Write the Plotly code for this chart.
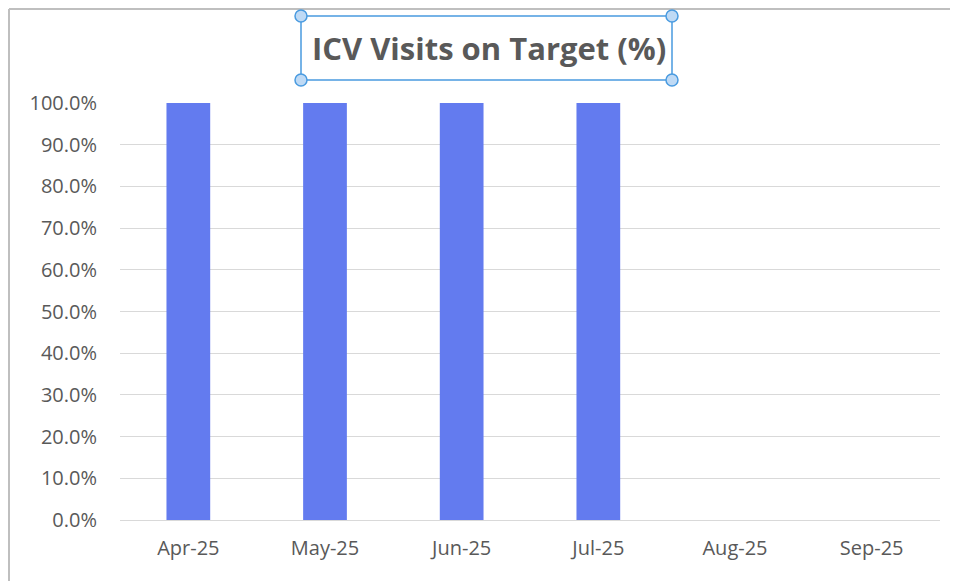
import plotly.graph_objects as go

# chart data
months = ["Apr-25", "May-25", "Jun-25", "Jul-25", "Aug-25", "Sep-25"]
on_target = [1.0, 1.0, 1.0, 1.0, None, None]
y_ticks = [0.0, 0.1, 0.2, 0.3, 0.4, 0.5, 0.6, 0.7, 0.8, 0.9, 1.0]

# the page body adds an 8px margin, so the figure is sized to fit the window
OFF = 8
W, H = 958 - OFF, 581 - OFF
L, R, T, B = 120 - OFF, 18, 103 - OFF, 61
PW, PH = W - L - R, H - T - B


def px_x(px):
    # page pixel -> paper x
    return (px - OFF - L) / PW


def px_y(py):
    # page pixel -> paper y
    return (H - B - (py - OFF)) / PH


font = "'Open Sans', sans-serif"
grey = "#595959"

fig = go.Figure()
fig.add_trace(go.Bar(
    x=months, y=on_target,
    marker=dict(color="#637BEF", line=dict(width=0)),
    width=0.32,
))

shapes = [
    # outer chart border (top + left only, screenshot is cropped)
    dict(type="line", xref="paper", yref="paper", x0=px_x(9), x1=px_x(958), y0=px_y(9), y1=px_y(9),
         line=dict(color="#BFBFBF", width=2)),
    dict(type="line", xref="paper", yref="paper", x0=px_x(9), x1=px_x(9), y0=px_y(9), y1=px_y(581),
         line=dict(color="#BFBFBF", width=2)),
    # title selection box
    dict(type="rect", xref="paper", yref="paper", x0=px_x(301), x1=px_x(672), y0=px_y(16), y1=px_y(80),
         line=dict(color="#4A9BE0", width=1.5)),
]
for cx in (301, 672):
    for cy in (16, 80):
        shapes.append(dict(type="circle", xref="paper", yref="paper",
                           x0=px_x(cx - 6), x1=px_x(cx + 6), y0=px_y(cy - 6), y1=px_y(cy + 6),
                           fillcolor="#BFDAF5", line=dict(color="#4A9BE0", width=1.5)))

fig.update_layout(
    width=W, height=H,
    margin=dict(l=L, r=R, t=T, b=B),
    paper_bgcolor="white", plot_bgcolor="white",
    showlegend=False,
    shapes=shapes,
    annotations=[dict(
        text="<b>ICV Visits on Target (%)</b>", xref="paper", yref="paper",
        x=px_x(489), y=px_y(48), xanchor="center", yanchor="middle", showarrow=False,
        font=dict(family=font, size=31, color=grey),
    )],
)
fig.update_xaxes(
    showgrid=False, showline=False, ticks="",
    tickfont=dict(family=font, size=20, color=grey),
    ticklabelstandoff=14,
)
fig.update_yaxes(
    range=[0, 1.0], tickvals=y_ticks, tickformat=".1%",
    showgrid=True, gridcolor="#D9D9D9", gridwidth=1,
    zeroline=True, zerolinecolor="#D9D9D9", zerolinewidth=1,
    showline=False, ticks="",
    tickfont=dict(family=font, size=20, color=grey),
    ticklabelstandoff=22,
)

fig.write_html("out.html")
